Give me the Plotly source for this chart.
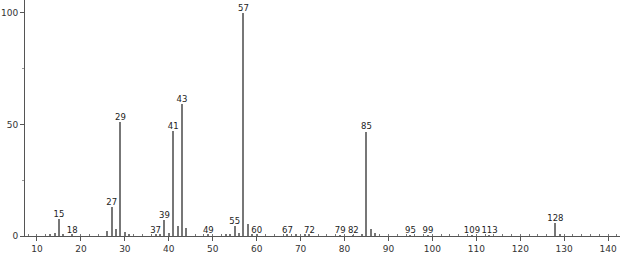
import plotly.graph_objects as go

mz = [13, 14, 15, 16, 18, 26, 27, 28, 29, 30, 31, 37, 38, 39, 40, 41, 42, 43, 44,
      49, 53, 54, 55, 56, 57, 58, 59, 60, 67, 69, 71, 72, 79, 82, 84, 85, 86, 87,
      95, 99, 109, 113, 128, 129]
intensity = [0.5, 1.2, 7.6, 0.6, 0.5, 2.1, 12.8, 3.3, 51.2, 1.8, 0.8, 0.5, 0.7, 7.3, 1.3, 47.2, 4.4, 59.1, 3.5,
             0.5, 0.6, 0.6, 4.3, 1.3, 100, 5.3, 0.5, 0.5, 0.5, 0.5, 0.6, 0.5, 0.4, 0.4, 0.7, 46.8, 3.1, 1.5,
             0.3, 0.3, 0.3, 0.3, 5.8, 0.6]
labels = [15, 18, 27, 29, 37, 39, 41, 43, 49, 55, 57, 60, 67, 72, 79, 82, 85, 95, 99, 109, 113, 128]
x_ticks = [10, 20, 30, 40, 50, 60, 70, 80, 90, 100, 110, 120, 130, 140]
y_ticks = [0, 50, 100]

lookup = dict(zip(mz, intensity))
label_y = [lookup.get(m, 0.5) for m in labels]

fig = go.Figure()
fig.add_trace(go.Bar(x=mz, y=intensity, width=0.26, marker=dict(color="#777777", line=dict(width=0)),
                     showlegend=False, hoverinfo="x+y"))
fig.add_trace(go.Scatter(x=labels, y=label_y, mode="text", text=[str(v) for v in labels],
                         textposition="top center",
                         textfont=dict(family="DejaVu Sans", size=8.5, color="#222"),
                         showlegend=False, cliponaxis=False))

fig.update_layout(
    width=623, height=254,
    margin=dict(l=25, r=3, t=0, b=16),
    plot_bgcolor="white", paper_bgcolor="white",
    bargap=0,
    font=dict(family="DejaVu Sans", size=9, color="#333"),
    xaxis=dict(range=[7.27, 142.7], tickvals=x_ticks, showgrid=False, zeroline=False,
               showline=True, linecolor="#555", linewidth=1,
               ticks="outside", ticklen=4, tickcolor="#555",
               minor=dict(dtick=2, tick0=0, ticks="inside", ticklen=2, tickcolor="#777", showgrid=False),
               tickfont=dict(size=9, color="#333")),
    yaxis=dict(range=[0, 105.8], tickvals=y_ticks, showgrid=False, zeroline=False,
               showline=True, linecolor="#555", linewidth=1,
               ticks="outside", ticklen=4, tickcolor="#555",
               minor=dict(dtick=25, tick0=0, ticks="outside", ticklen=2, tickcolor="#999", showgrid=False),
               tickfont=dict(size=9, color="#333")),
)

fig.write_html("out.html")
